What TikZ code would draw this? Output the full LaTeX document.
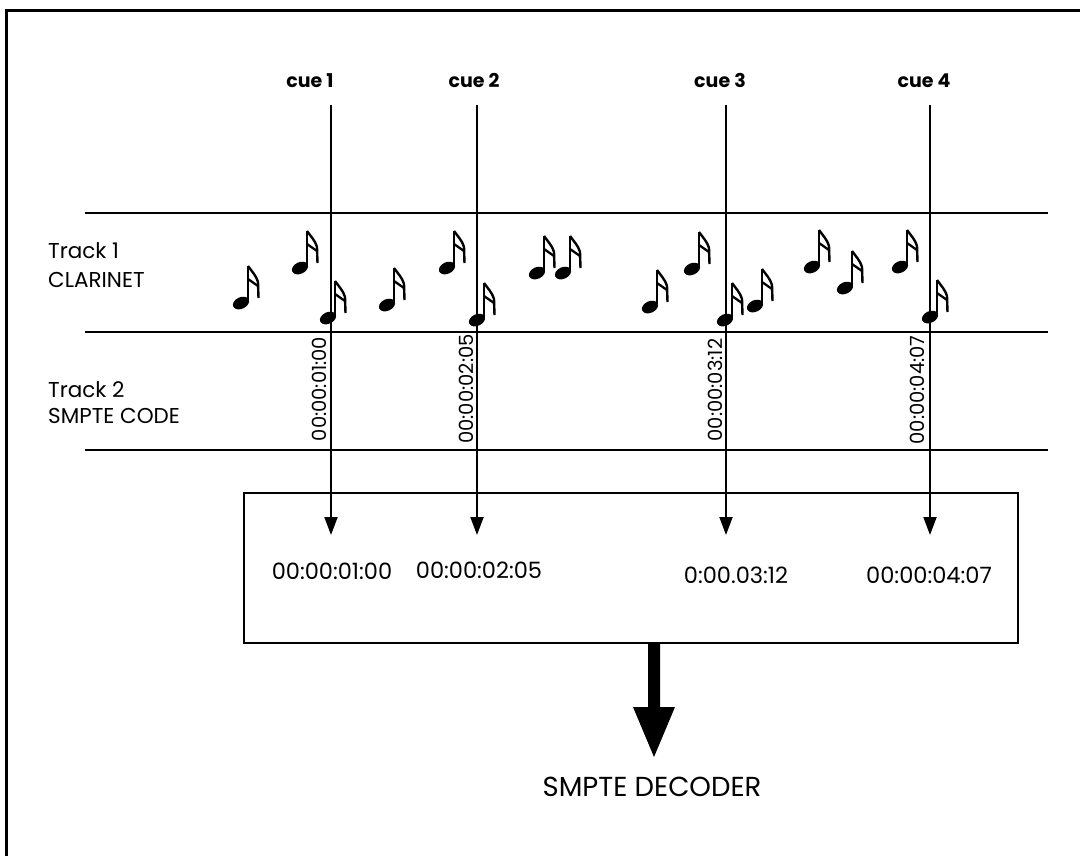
\documentclass[tikz,border=0pt]{standalone}
\usepackage{fontspec}
\setmainfont{Poppins}
\usetikzlibrary{arrows.meta}
\begin{document}
\begin{tikzpicture}[x=1pt,y=-1pt,
  rule/.style={line width=2.5pt},
  cuearrow/.style={line width=2pt,-{Triangle[length=18pt,width=13pt]}},
  cuelab/.style={anchor=base,inner sep=0pt,font=\bfseries\fontsize{19}{19}\selectfont},
  trk/.style={anchor=base west,inner sep=0pt,font=\fontsize{21.5}{21.5}\selectfont},
  tcode/.style={anchor=base,inner sep=0pt,font=\fontsize{22.5}{22.5}\selectfont},
  vcode/.style={rotate=90,inner sep=0pt,font=\fontsize{19.5}{19.5}\selectfont},
  note/.pic={
    \fill[rotate=25] (0,0) ellipse [x radius=8.5, y radius=5.8];
    \draw[line width=2pt] (7,-1) -- (7,-37);
    \draw[line width=2.4pt,line join=round] (7,-37) .. controls (10.5,-32) and (15.5,-27) .. (17,-21) -- (17.5,-5);
    \draw[line width=2.3pt] (7,-24) -- (17,-17);
  }]
\useasboundingbox (0,0) rectangle (1080,855);
% outer frame
\draw[line width=3pt] (6,857) -- (6,10) -- (1082,10);
% staff lines
\draw[rule] (85,213) -- (1048,213);
\draw[rule] (85,332) -- (1048,332);
\draw[rule] (85,450) -- (1048,450);
% track labels
\node[trk] (t1a) at (48,258) {Track 1};
\node[trk] (t1b) at (48,287) {CLARINET};
\node[trk] (t2a) at (48,397) {Track 2};
\node[trk] (t2b) at (48,423) {SMPTE CODE};
% decoder box
\node[draw,line width=2.5pt,minimum width=774pt,minimum height=150pt,inner sep=0pt] (box) at (631,568) {};
% cue labels
\node[cuelab] (c1) at (310,87) {cue 1};
\node[cuelab] (c2) at (474,87) {cue 2};
\node[cuelab] (c3) at (720,87) {cue 3};
\node[cuelab] (c4) at (924,87) {cue 4};
\coordinate (s1) at (331,105); \coordinate (e1) at (331,535);
\coordinate (s2) at (477,105); \coordinate (e2) at (477,535);
\coordinate (s3) at (726,105); \coordinate (e3) at (726,535);
\coordinate (s4) at (930,105); \coordinate (e4) at (930,535);
\draw[cuearrow] (s1) -- (e1);
\draw[cuearrow] (s2) -- (e2);
\draw[cuearrow] (s3) -- (e3);
\draw[cuearrow] (s4) -- (e4);
% vertical SMPTE codes
\node[vcode] (v1) at (319,389) {00:00:01:00};
\node[vcode] (v2) at (466,389) {00:00:02:05};
\node[vcode] (v3) at (715,390) {00:00:03:12};
\node[vcode] (v4) at (917,390) {00:00:04:07};
% decoded times
\node[tcode] (d1) at (332,579) {00:00:01:00};
\node[tcode] (d2) at (479,578) {00:00:02:05};
\node[tcode] (d3) at (736,583) {0:00.03:12};
\node[tcode] (d4) at (929,583) {00:00:04:07};
% output
\node[anchor=base,inner sep=0pt,font=\fontsize{27.5}{27.5}\selectfont] (dec) at (652,796) {SMPTE DECODER};
\fill (648,643) -- (660,643) -- (660,707) -- (675,707) -- (654,757) -- (633,707) -- (648,707) -- cycle;
% notes
\foreach \p in {(241,303),(300,268),(328,318),(387,305),(447,268),(477,320),(537,273),(563,273),
                (650,307),(692,269),(725,320),(755,306),(812,267),(845,288),(900,267),(930,317)}
  \pic at \p {note};
\end{tikzpicture}
\end{document}
